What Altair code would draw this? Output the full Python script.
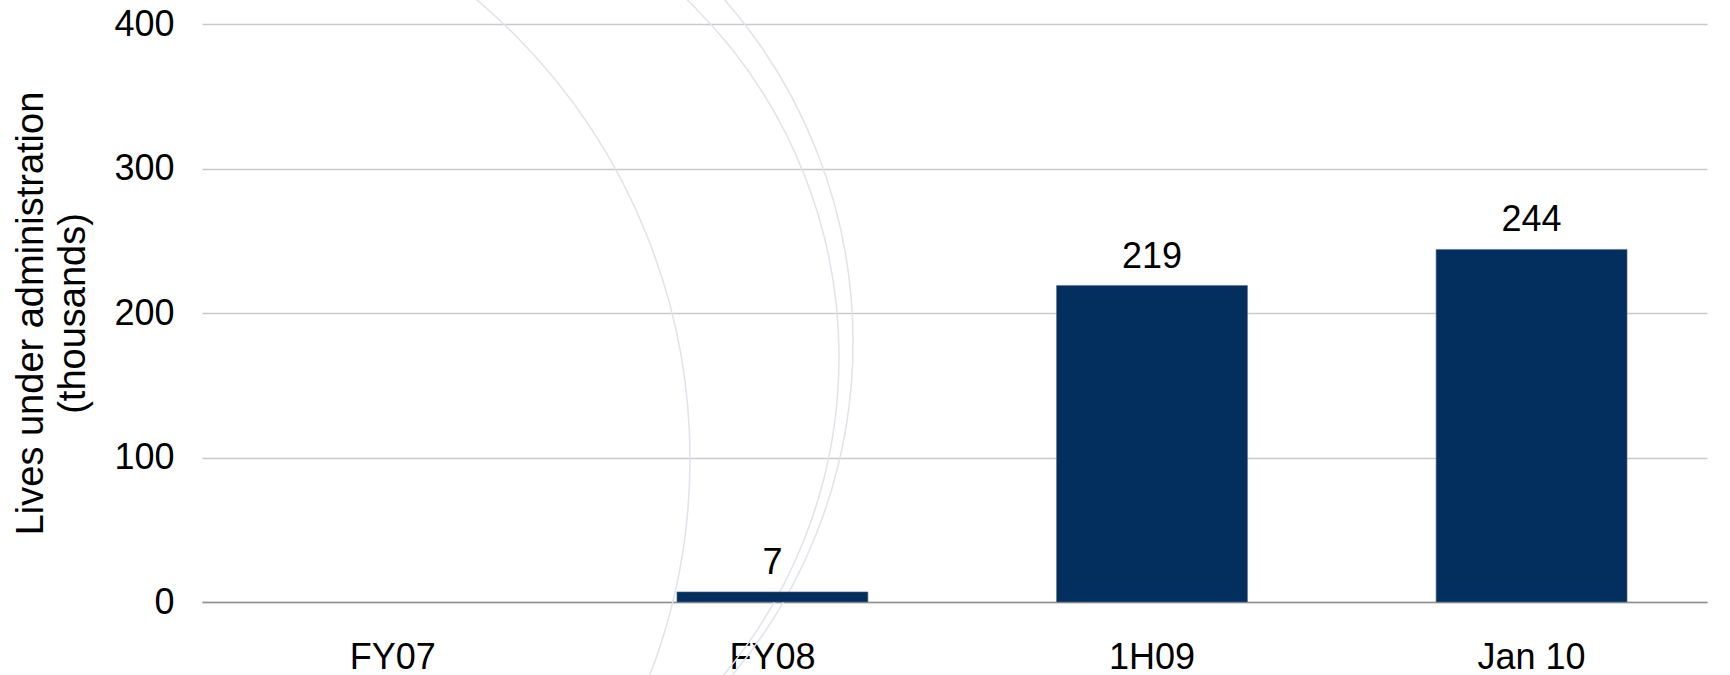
import math
import altair as alt
import pandas as pd

# Lives under administration (thousands) by reporting period
periods = ["FY07", "FY08", "1H09", "Jan 10"]
lives = [0, 7, 219, 244]

y_ticks = [0, 100, 200, 300, 400]

FONT = "Liberation Sans"
BAR_COLOR = "#022F5E"

df = pd.DataFrame({"period": periods, "lives": lives})

x_enc = alt.X(
    "period:N",
    sort=periods,
    title=None,
    scale=alt.Scale(
        domain=periods, paddingInner=0.497, paddingOuter=0.231, align=0.544
    ),
    axis=alt.Axis(
        labelAngle=0,
        labelFont=FONT,
        labelFontSize=36,
        labelColor="#000000",
        labelPadding=38,
        ticks=False,
        domainColor="#8f8f8f",
        domainWidth=1.6,
        grid=False,
    ),
)

y_enc = alt.Y(
    "lives:Q",
    scale=alt.Scale(domain=[0, 400], nice=False),
    axis=alt.Axis(
        values=y_ticks,
        title=["Lives under administration", "(thousands)"],
        titleFont=FONT,
        titleFontSize=38,
        titleFontWeight="normal",
        titleColor="#000000",
        titleAngle=-90,
        titleAlign="center",
        titleBaseline="alphabetic",
        titleLineHeight=42,
        titleX=-160,
        titleY=289,
        labelFont=FONT,
        labelFontSize=36,
        labelColor="#000000",
        labelPadding=28,
        ticks=False,
        domain=False,
        grid=True,
        gridColor="#c9c9c9",
        gridWidth=1.5,
    ),
)

# faint decorative rings behind the plot
rings = [
    dict(cx=-113, cy=435, r=601),
    dict(cx=141, cy=333, r=496),
    dict(cx=131, cy=318, r=520),
]
ring_layers = [
    alt.Chart(df)
    .transform_filter(alt.datum.period == periods[0])
    .mark_arc(
        filled=False,
        stroke="#e1e2ea",
        strokeWidth=1.5,
        radius=g["r"],
        theta=0,
        theta2=2 * math.pi,
        clip=False,
    )
    .encode(x=alt.value(g["cx"]), y=alt.value(g["cy"]))
    for g in rings
]

base = alt.Chart(df)

bars = (
    base.transform_filter(alt.datum.lives > 0)
    .mark_bar(color=BAR_COLOR, stroke="#5a6f88", strokeWidth=0.6)
    .encode(x=x_enc, y=y_enc)
)

labels = (
    base.transform_filter(alt.datum.lives > 0)
    .mark_text(
        font=FONT,
        fontSize=36,
        color="#000000",
        baseline="alphabetic",
        dy=-18,
    )
    .encode(x=alt.X("period:N", sort=periods), y="lives:Q", text="lives:Q")
)

chart = (
    alt.layer(*ring_layers, bars, labels)
    .properties(
        width=1505,
        height=578,
        autosize=alt.AutoSizeParams(type="none"),
        padding={"left": 202, "top": 24, "right": 23, "bottom": 73},
        background="#ffffff",
    )
    .configure_view(stroke=None)
)

chart.save("out.html", embed_options={"renderer": "svg", "actions": False})
